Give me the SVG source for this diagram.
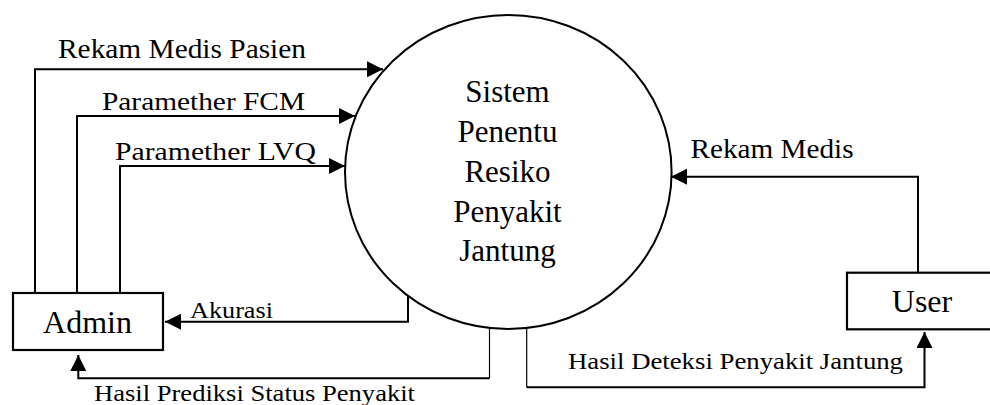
<svg xmlns="http://www.w3.org/2000/svg" width="990" height="405" viewBox="0 0 990 405">
  <style>
    .bg { fill: #ffffff; }
    .box { fill: #ffffff; stroke: #000000; stroke-width: 2.2; }
    .proc { fill: #ffffff; stroke: #000000; stroke-width: 2; }
    .flow { fill: none; stroke: #000000; stroke-width: 2; }
    .thin { fill: none; stroke: #000000; stroke-width: 1.2; }
    .arr { marker-end: url(#head); }
    text { fill: #000000; font-family: "Liberation Serif", "Times New Roman", serif; }
    .node { font-size: 32px; text-anchor: middle; }
    .proc-label { font-size: 31px; text-anchor: middle; }
  </style>
  <defs>
    <marker id="head" markerUnits="userSpaceOnUse" markerWidth="16" markerHeight="16" viewBox="0 0 15 15" refX="15" refY="7.5" orient="auto">
      <path d="M0,0 L15,7.5 L0,15 Z" fill="#000000"/>
    </marker>
  </defs>

  <rect class="bg" x="0" y="0" width="990" height="405"/>

  <!-- data flows -->
  <g id="connectors">
    <!-- Admin -> process -->
    <path class="flow arr" d="M35,293 V69.3 H383"/>
    <path class="flow arr" d="M77,293 V116 H355"/>
    <path class="flow arr" d="M120,293 V166 H345"/>
    <!-- User -> process -->
    <path class="flow arr" d="M918,272.7 V176.7 H671"/>
    <!-- process -> Admin: Akurasi -->
    <path class="flow arr" d="M408,296 V321.7 H165"/>
    <!-- process -> Admin: Hasil Prediksi -->
    <path class="thin" d="M489.5,328 V378.3"/>
    <path class="flow arr" d="M489.5,378.3 H78.3 V355"/>
    <!-- process -> User: Hasil Deteksi -->
    <path class="thin" d="M526.7,329 V387.3"/>
    <path class="flow arr" d="M526.7,387.3 H924.5 V332"/>

    <!-- flow labels -->
    <text x="58" y="58.3" font-size="27.5" textLength="248" lengthAdjust="spacingAndGlyphs">Rekam Medis Pasien</text>
    <text x="102" y="110" font-size="25" textLength="203" lengthAdjust="spacingAndGlyphs">Paramether FCM</text>
    <text x="115" y="160" font-size="25" textLength="201" lengthAdjust="spacingAndGlyphs">Paramether LVQ</text>
    <text x="690.5" y="158.3" font-size="28" textLength="163" lengthAdjust="spacingAndGlyphs">Rekam Medis</text>
    <text x="190" y="318" font-size="23" textLength="83" lengthAdjust="spacingAndGlyphs">Akurasi</text>
    <text x="94" y="400.7" font-size="23" textLength="321" lengthAdjust="spacingAndGlyphs">Hasil Prediksi Status Penyakit</text>
    <text x="568" y="369.3" font-size="24" textLength="335" lengthAdjust="spacingAndGlyphs">Hasil Deteksi Penyakit Jantung</text>
  </g>

  <!-- central process -->
  <g id="process">
    <ellipse class="proc" cx="508.3" cy="172" rx="163.3" ry="157"/>
    <text class="proc-label" x="507.5" y="102">Sistem</text>
    <text class="proc-label" x="507.5" y="142">Penentu</text>
    <text class="proc-label" x="507.5" y="182">Resiko</text>
    <text class="proc-label" x="507.5" y="222">Penyakit</text>
    <text class="proc-label" x="507.5" y="261">Jantung</text>
  </g>

  <!-- external entities -->
  <g id="admin">
    <rect class="box" x="13" y="293" width="150" height="57"/>
    <text class="node" x="87.5" y="333">Admin</text>
  </g>

  <g id="user">
    <rect class="box" x="847" y="272.7" width="160" height="56.6"/>
    <text class="node" x="922" y="311.7">User</text>
  </g>
</svg>
